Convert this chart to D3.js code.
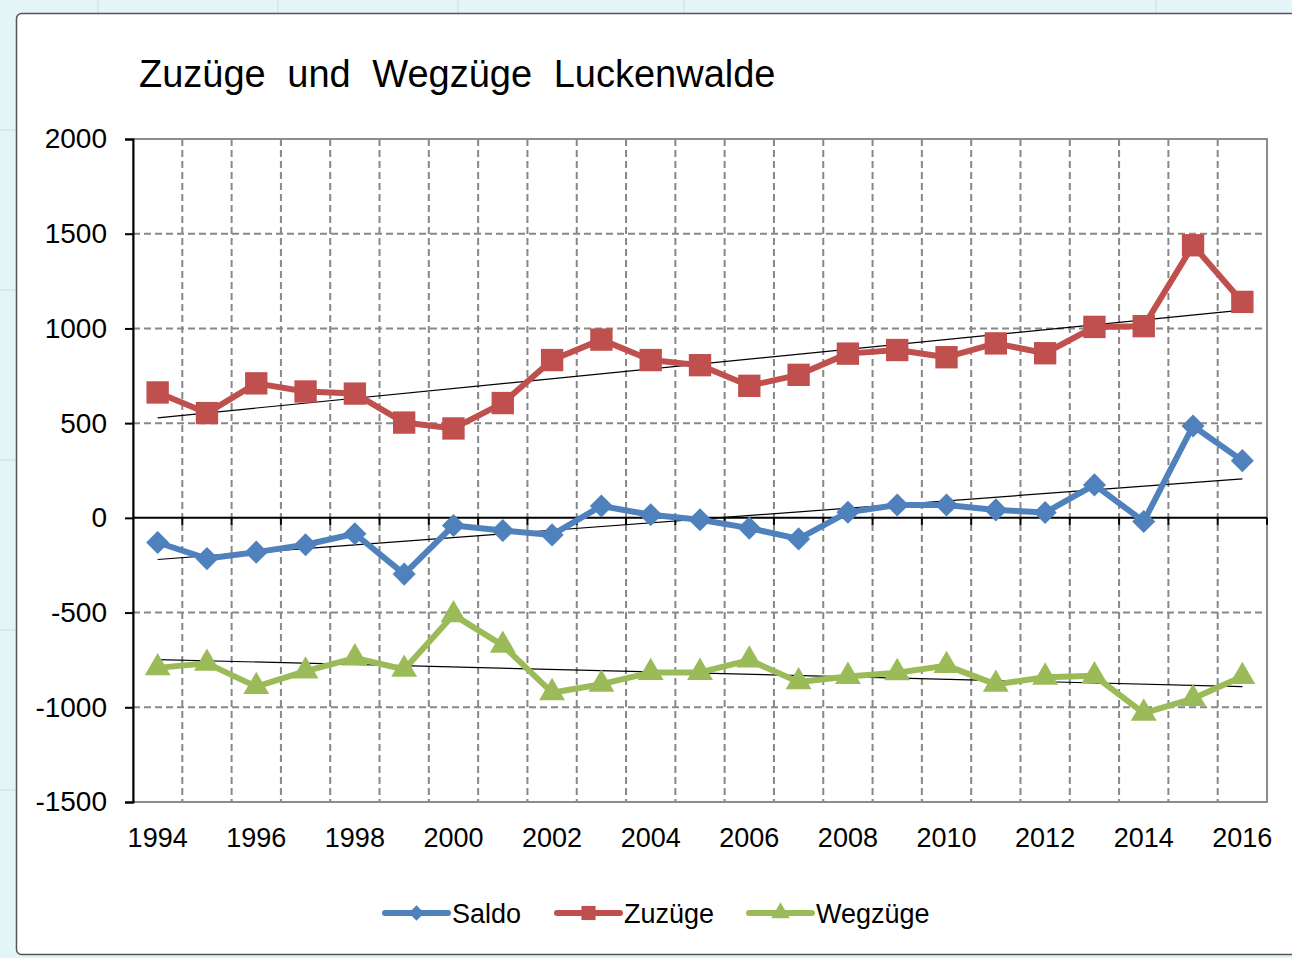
<!DOCTYPE html>
<html>
<head>
<meta charset="utf-8">
<script src="https://cdn.jsdelivr.net/npm/d3@7"></script>
<style>
    body { margin: 0; background: #fff; }
    svg { display: block; font-family: "Liberation Sans", Arial, sans-serif; }
</style>
</head>
<body>
<div id="line_chart"></div>
<script>
// data
const years = d3.range(1994, 2017);
const yearTicks = [1994, 1996, 1998, 2000, 2002, 2004, 2006, 2008, 2010, 2012, 2014, 2016];
const valueTicks = [2000, 1500, 1000, 500, 0, -500, -1000, -1500];

const saldo = [-130, -215, -181, -142, -84, -297, -40, -67, -90, 63, 16, -10, -54, -111, 30, 68, 68, 42, 28, 174, -19, 485, 302];
const zuzuege = [662, 553, 710, 667, 656, 503, 472, 606, 833, 941, 833, 806, 697, 755, 867, 886, 848, 921, 869, 1008, 1012, 1439, 1140];
const wegzuege = [-792, -768, -891, -809, -740, -800, -512, -673, -923, -878, -817, -816, -751, -866, -837, -818, -780, -879, -841, -834, -1031, -954, -838];

const seriesNames = ["Saldo", "Zuzüge", "Wegzüge"];
const seriesColors = ["#4F81BD", "#C0504D", "#9BBB59"];

let chart = {
    width: 1292,
    height: 958,
    left: 133,
    right: 1267,
    top: 139,
    bottom: 802
};

var svg = d3.select("#line_chart")
    .append('svg')
    .attr('width', chart.width)
    .attr('height', chart.height);

// spreadsheet behind the chart object
svg.append("rect")
    .attr("width", chart.width).attr("height", chart.height)
    .attr("fill", "#e4f5f8");
[98, 278, 458, 684, 1156].forEach(x => {
    svg.append("line").attr("x1", x).attr("x2", x).attr("y1", 0).attr("y2", 13)
        .attr("stroke", "#c9dfe4");
});
[130, 290, 460, 630, 790].forEach(y => {
    svg.append("line").attr("x1", 0).attr("x2", 16).attr("y1", y).attr("y2", y)
        .attr("stroke", "#c9dfe4");
});

// chart frame
svg.append("rect")
    .attr("x", 16.5).attr("y", 13.5)
    .attr("width", 1290).attr("height", 941)
    .attr("rx", 5)
    .attr("fill", "#fff")
    .attr("stroke", "#555")
    .attr("stroke-width", 1.5);

svg.append("text")
    .attr("x", 139)
    .attr("y", 87)
    .attr("font-size", 38)
    .attr("word-spacing", 11)
    .attr("fill", "#000")
    .text("Zuzüge und Wegzüge Luckenwalde");

var xscale = d3.scaleBand()
    .domain(years)
    .range([chart.left, chart.right]);

var yscale = d3.scaleLinear()
    .domain([-1500, 2000])
    .range([chart.bottom, chart.top]);

var cx = d => xscale(d) + xscale.bandwidth() / 2;

var g = svg.append("g").attr("class", "graph");

// plot border
g.append("rect")
    .attr("x", chart.left).attr("y", chart.top)
    .attr("width", chart.right - chart.left)
    .attr("height", chart.bottom - chart.top)
    .attr("fill", "none")
    .attr("stroke", "#8c8c8c")
    .attr("stroke-width", 2);

// dashed grid
var grid = g.append("g")
    .attr("stroke", "#888")
    .attr("stroke-width", 2)
    .attr("stroke-dasharray", "7,4");

grid.selectAll(".hgrid")
    .data(valueTicks.filter(v => v !== 0 && v !== 2000 && v !== -1500))
    .enter().append("line")
    .attr("x1", chart.left).attr("x2", chart.right)
    .attr("y1", d => yscale(d)).attr("y2", d => yscale(d));

grid.selectAll(".vgrid")
    .data(years.slice(1))
    .enter().append("line")
    .attr("x1", d => xscale(d)).attr("x2", d => xscale(d))
    .attr("y1", chart.top).attr("y2", chart.bottom);

// y axis
var yaxis = d3.axisLeft(yscale)
    .tickValues(valueTicks)
    .tickFormat(d => String(d))
    .tickSize(8)
    .tickPadding(18);

g.append("g")
    .attr("transform", "translate(" + chart.left + ",0)")
    .call(yaxis)
    .call(a => a.select(".domain").attr("stroke", "#000").attr("stroke-width", 2))
    .call(a => a.selectAll(".tick line").attr("stroke", "#000").attr("stroke-width", 2))
    .selectAll("text")
    .attr("font-size", 28)
    .attr("font-family", "Liberation Sans, Arial, sans-serif")
    .attr("fill", "#000");

// zero line with ticks at category boundaries
g.append("line")
    .attr("x1", chart.left).attr("x2", chart.right)
    .attr("y1", yscale(0)).attr("y2", yscale(0))
    .attr("stroke", "#000").attr("stroke-width", 2);

g.selectAll(".xtick")
    .data(years.slice(1).concat(["end"]))
    .enter().append("line")
    .attr("x1", d => d === "end" ? chart.right : xscale(d))
    .attr("x2", d => d === "end" ? chart.right : xscale(d))
    .attr("y1", yscale(0)).attr("y2", yscale(0) + 7)
    .attr("stroke", "#000").attr("stroke-width", 2);

// year labels below the plot
g.selectAll(".xlabel")
    .data(yearTicks)
    .enter().append("text")
    .attr("x", d => cx(d))
    .attr("y", 847)
    .attr("text-anchor", "middle")
    .attr("font-size", 27)
    .attr("fill", "#000")
    .text(d => d);

// trend lines (least squares)
function trend(values) {
    const n = values.length;
    const xs = d3.range(n);
    const mx = d3.mean(xs), my = d3.mean(values);
    const b = d3.sum(xs, (x, i) => (x - mx) * (values[i] - my)) / d3.sum(xs, x => (x - mx) * (x - mx));
    const a = my - b * mx;
    return [a, a + b * (n - 1)];
}

const allSeries = [saldo, zuzuege, wegzuege];

allSeries.forEach(values => {
    const t = trend(values);
    g.append("line")
        .attr("x1", cx(years[0])).attr("x2", cx(years[years.length - 1]))
        .attr("y1", yscale(t[0])).attr("y2", yscale(t[1]))
        .attr("stroke", "#000")
        .attr("stroke-width", 1.2);
});

var generateLine = d3.line()
    .x((d, i) => cx(years[i]))
    .y(d => yscale(d));

const symbols = [
    d3.symbol().type(d3.symbolDiamond2).size(340),
    d3.symbol().type(d3.symbolSquare).size(500),
    d3.symbol().type(d3.symbolTriangle).size(290)
];

allSeries.forEach((values, s) => {
    g.append("path")
        .datum(values)
        .attr("fill", "none")
        .attr("stroke", seriesColors[s])
        .attr("stroke-width", 6)
        .attr("stroke-linejoin", "round")
        .attr("d", generateLine);

    g.append("g").selectAll("path")
        .data(values)
        .enter().append("path")
        .attr("transform", (d, i) => "translate(" + cx(years[i]) + "," + yscale(d) + ")")
        .attr("d", symbols[s])
        .attr("fill", seriesColors[s]);
});

// legend
const legendX = [385, 557, 749];
var legend = svg.append("g").attr("class", "legend");

seriesNames.forEach((name, s) => {
    const item = legend.append("g")
        .attr("transform", "translate(" + legendX[s] + ",913)");
    item.append("line")
        .attr("x1", 0).attr("x2", 63)
        .attr("stroke", seriesColors[s])
        .attr("stroke-width", 6)
        .attr("stroke-linecap", "round");
    item.append("path")
        .attr("transform", "translate(31.5,0)")
        .attr("d", d3.symbol().type([d3.symbolDiamond2, d3.symbolSquare, d3.symbolTriangle][s]).size(s === 1 ? 200 : 150))
        .attr("fill", seriesColors[s]);
    item.append("text")
        .attr("x", 67)
        .attr("y", 10)
        .attr("font-size", 27)
        .attr("fill", "#000")
        .text(name);
});
</script>
</body>
</html>
